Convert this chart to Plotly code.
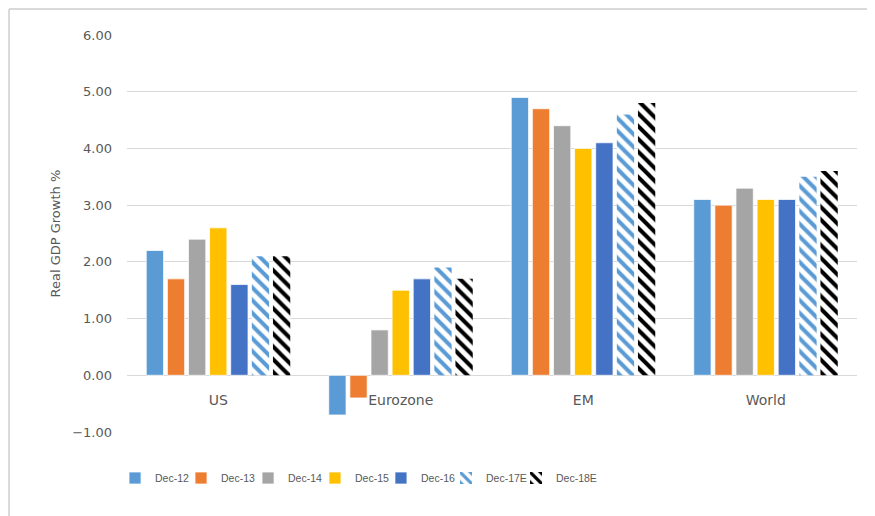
import plotly.graph_objects as go

regions = ["US", "Eurozone", "EM", "World"]
series_names = ["Dec-12", "Dec-13", "Dec-14", "Dec-15", "Dec-16", "Dec-17E", "Dec-18E"]
dec12 = [2.2, -0.7, 4.9, 3.1]
dec13 = [1.7, -0.4, 4.7, 3.0]
dec14 = [2.4, 0.8, 4.4, 3.3]
dec15 = [2.6, 1.5, 4.0, 3.1]
dec16 = [1.6, 1.7, 4.1, 3.1]
dec17e = [2.1, 1.9, 4.6, 3.5]
dec18e = [2.1, 1.7, 4.8, 3.6]
y_ticks = [-1, 0, 1, 2, 3, 4, 5, 6]
y_title = "Real GDP Growth %"

values = [dec12, dec13, dec14, dec15, dec16, dec17e, dec18e]
colors = ["#5B9BD5", "#ED7D31", "#A5A5A5", "#FFC000", "#4472C4", "#5B9BD5", "#000000"]
hatched = [False, False, False, False, False, True, True]
# legend entry x positions (paper fraction), one legend per series
legend_x = [-0.0164, 0.0740, 0.1658, 0.2575, 0.3479, 0.4370, 0.5329]

font_c = "#595959"
legend_font = dict(family="Liberation Sans, Arial, sans-serif", size=10.5, color=font_c)
fig = go.Figure()
legend_layouts = {}
for i, (name, vals, col, h) in enumerate(zip(series_names, values, colors, hatched)):
    if h:
        marker = dict(color="white",
                      pattern=dict(shape="\\", fgcolor=col, bgcolor="white",
                                   size=9, solidity=0.45, fillmode="replace"),
                      line=dict(color="white", width=0))
    else:
        marker = dict(color=col, line=dict(color="white", width=0.75))
    lname = "legend" if i == 0 else f"legend{i+1}"
    fig.add_trace(go.Bar(name=name, x=regions, y=vals, marker=marker, legend=lname))
    legend_layouts[lname] = dict(
        orientation="h", x=legend_x[i], y=-0.1159, xanchor="left", yanchor="middle",
        font=legend_font, itemwidth=30, bgcolor="rgba(0,0,0,0)")

fig.update_layout(
    width=867, height=508,
    paper_bgcolor="white", plot_bgcolor="white",
    barmode="group", bargap=0.19, bargroupgap=0.18,
    margin=dict(l=119, r=18, t=27, b=84, autoexpand=False),
    font=dict(family="DejaVu Sans, Arial, sans-serif", size=12, color=font_c),
    showlegend=True,
    shapes=[
        dict(type="line", xref="paper", yref="paper", x0=-0.1616, x1=1.05, y0=1.0655, y1=1.0655,
             line=dict(color="#D9D9D9", width=2)),
        dict(type="line", xref="paper", yref="paper", x0=-0.1616, x1=-0.1616, y0=1.0655, y1=-0.22,
             line=dict(color="#D9D9D9", width=2)),
    ],
    annotations=[
        dict(text=y_title, xref="paper", yref="paper", x=-0.0986, y=0.5,
             textangle=-90, showarrow=False, xanchor="center", yanchor="middle",
             font=dict(family="DejaVu Sans, Arial, sans-serif", size=13, color=font_c)),
    ],
    **legend_layouts,
)
fig.update_yaxes(
    range=[-1, 6], tickvals=y_ticks, tickformat=".2f", automargin=False,
    showgrid=True, gridcolor="#D9D9D9", gridwidth=1,
    zeroline=False, showline=False, ticks="", ticklabelstandoff=14,
    tickfont=dict(family="DejaVu Sans, Arial, sans-serif", size=13, color=font_c),
)
fig.update_xaxes(
    anchor="free", position=1/7, showline=False, ticks="", automargin=False,
    ticklabelstandoff=15, tickfont=dict(family="DejaVu Sans, Arial, sans-serif", size=14, color=font_c),
    showgrid=False,
)
fig.write_html("out.html")
